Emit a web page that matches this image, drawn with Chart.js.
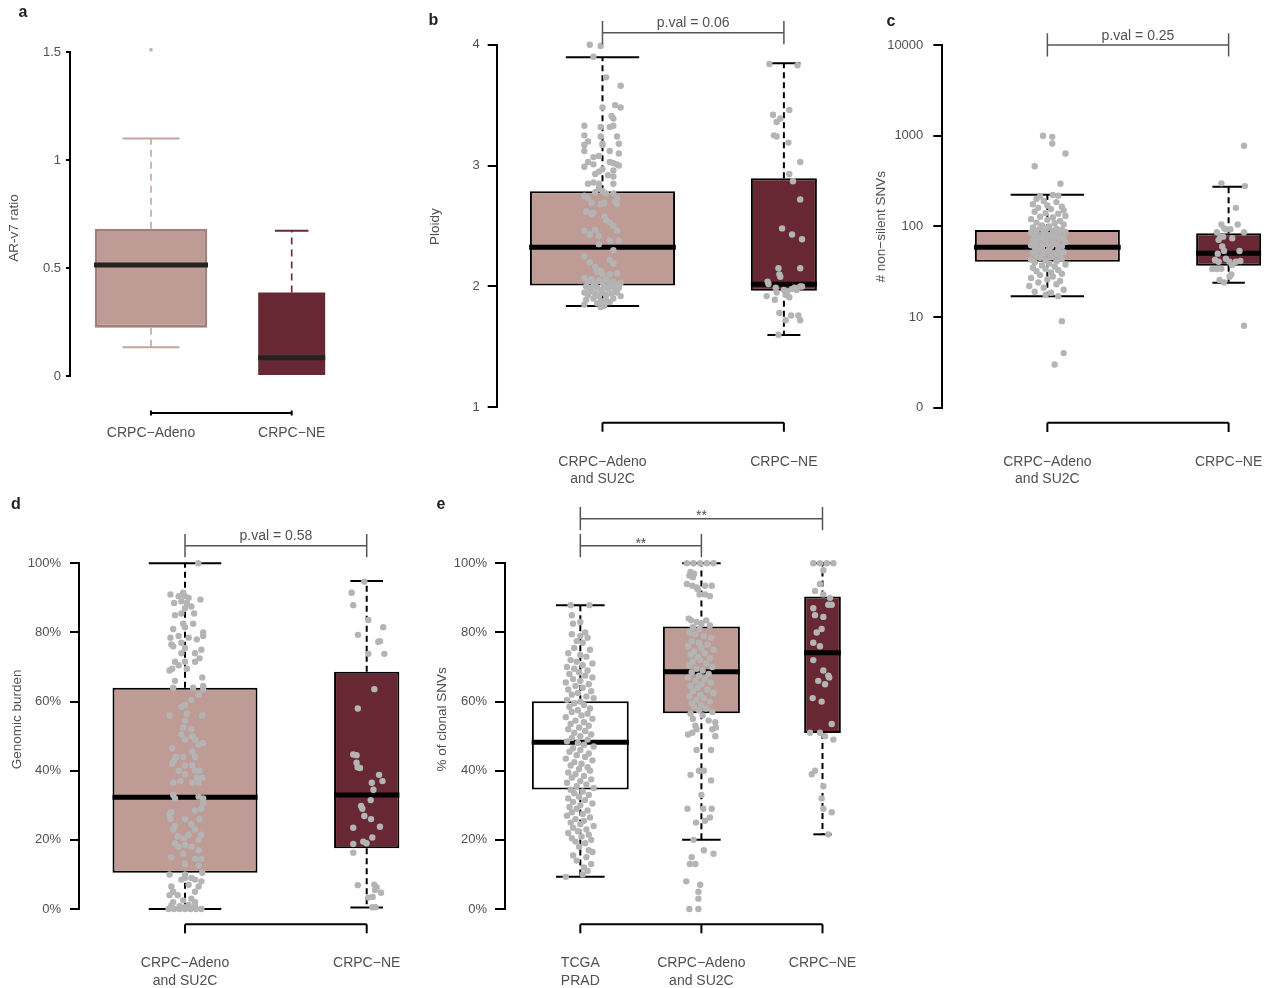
<!DOCTYPE html>
<html>
<head>
<meta charset="utf-8">
<script src="https://cdn.jsdelivr.net/npm/chart.js@4.4.1/dist/chart.umd.min.js"></script>
<style>
  body { margin: 0; background: #fff; width: 1273px; height: 988px; position: relative; overflow: hidden; }
  .panel { position: absolute; }
</style>
</head>
<body>
<div class="panel" style="left:0px;top:0px;width:340px;height:450px"><canvas id="pa"></canvas></div>
<div class="panel" style="left:420px;top:0px;width:440px;height:490px"><canvas id="pb"></canvas></div>
<div class="panel" style="left:860px;top:0px;width:413px;height:490px"><canvas id="pc"></canvas></div>
<div class="panel" style="left:0px;top:490px;width:420px;height:498px"><canvas id="pd"></canvas></div>
<div class="panel" style="left:420px;top:490px;width:450px;height:498px"><canvas id="pe"></canvas></div>
<script>
// ---- data ----
const catsTwo = ['CRPC\u2212Adeno\nand SU2C', 'CRPC\u2212NE'];
const catsA = ['CRPC\u2212Adeno', 'CRPC\u2212NE'];
const catsE = ['TCGA\nPRAD', 'CRPC\u2212Adeno\nand SU2C', 'CRPC\u2212NE'];

// a: AR-v7 ratio
const aQ1 = [0.223, 0], aMed = [0.514, 0.085], aQ3 = [0.682, 0.386];
const aLo = [0.133, 0], aHi = [1.10, 0.673];
const aPts = [[1.0, 1.51]];

// b: ploidy
const bQ1 = [2.007, 1.965], bMed = [2.324, 2.018], bQ3 = [2.787, 2.895];
const bLo = [1.839, 1.599], bHi = [3.896, 3.846];
const bPts = [[0.93,4.00],[0.99,3.99],[0.95,3.90],[1.02,3.73],[1.10,3.66],[1.00,3.48],[1.07,3.50],[1.10,3.48],[1.05,3.41],[1.06,3.39],
  [0.90,3.33],[0.99,3.32],[1.04,3.32],[1.06,3.33],[0.90,3.25],[0.90,3.17],[0.99,3.24],[1.00,3.17],[1.08,3.24],[1.09,3.18],
  [0.92,3.20],[0.90,3.12],[1.00,3.18],[1.04,3.12],[1.09,3.10],[0.95,3.07],[0.98,3.08],[0.90,2.99],[0.92,3.03],[0.95,3.01],
  [1.04,3.03],[1.06,3.02],[1.08,3.01],[1.09,3.00],[0.96,2.93],[0.98,2.95],[1.00,2.97],[1.03,2.92],[1.06,2.96],[1.06,2.91],
  [0.92,2.85],[0.95,2.86],[0.98,2.85],[1.06,2.85],[0.98,2.81],[1.00,2.79],[1.02,2.77],[0.96,2.78],[0.90,2.75],[0.92,2.73],
  [1.06,2.77],[1.08,2.73],[0.94,2.69],[1.01,2.69],[0.99,2.68],[1.07,2.70],[1.08,2.68],[0.91,2.62],[0.95,2.61],[0.94,2.60],
  [1.01,2.58],[1.02,2.55],[1.04,2.53],[0.90,2.46],[0.96,2.47],[1.06,2.50],[1.08,2.46],[0.93,2.43],[0.98,2.42],[1.04,2.38],
  [1.09,2.38],[0.98,2.35],[1.06,2.30],[0.90,2.25],[0.93,2.20],[0.96,2.16],[0.99,2.13],[1.04,2.22],[1.06,2.19],[0.97,2.12],
  [1.00,2.10],[1.04,2.10],[1.08,2.11],[0.90,2.07],[0.92,2.04],[0.94,2.06],[0.96,2.02],[0.98,2.05],[1.00,2.03],[1.02,2.06],
  [1.04,2.02],[1.06,2.04],[1.08,2.01],[1.10,2.03],[0.91,2.00],[0.93,1.98],[0.95,2.01],[0.97,1.99],[0.99,1.97],[1.01,2.00],
  [1.03,1.98],[1.05,2.00],[1.07,1.97],[1.09,1.99],[0.90,1.95],[0.92,1.93],[0.94,1.96],[0.96,1.94],[0.98,1.92],[1.00,1.95],
  [1.02,1.93],[1.05,1.94],[1.08,1.95],[1.10,1.92],[0.91,1.89],[0.95,1.90],[0.99,1.88],[1.02,1.89],[1.06,1.90],[0.90,1.85],
  [0.97,1.86],[1.01,1.84],[1.04,1.87],[0.99,1.83],
  [1.92,3.84],[2.075,3.83],[2.03,3.46],[1.94,3.42],[1.98,3.39],[1.96,3.36],[1.945,3.25],[1.96,3.24],[2.025,3.19],[2.09,3.03],
  [2.03,2.93],[2.05,2.87],[2.09,2.72],[1.99,2.48],[2.045,2.43],[2.10,2.39],[1.97,2.15],[2.09,2.15],[1.975,2.10],[1.98,2.08],
  [1.91,2.04],[1.915,2.02],[1.955,1.99],[1.96,1.95],[2.00,1.97],[2.02,1.96],[2.045,1.98],[2.06,1.99],[2.09,2.00],[2.10,2.00],
  [2.07,1.97],[1.905,1.92],[1.95,1.89],[2.01,1.93],[2.03,1.91],[1.975,1.78],[2.01,1.72],[2.04,1.76],[2.08,1.76],[2.09,1.72],[1.97,1.60]];

// c: non-silent SNVs (counts, log axis)
const cQ1 = [40.7, 36.8], cMed = [58.7, 50.4], cQ3 = [91, 84];
const cLo = [17, 23.9], cHi = [223, 273];
const cTicks = [1, 10, 100, 1000, 10000];
const cPts = [[0.976,1000],[1.027,970],[1.027,820],[1.10,635],[0.93,460],[1.072,295],[1.08,9],[1.09,4],[1.04,3],
  [0.96,215],[1.03,222],[1.06,218],[0.94,200],[0.98,190],[1.05,185],[0.92,175],[1.00,170],[1.08,165],[0.95,160],
  [1.02,155],[1.09,150],[0.93,145],[0.99,140],[1.06,138],[1.10,130],[0.96,128],[1.03,125],[0.91,120],[1.00,118],
  [1.07,115],[0.94,110],[1.04,108],[1.09,105],[0.97,102],[1.01,100],[0.92,97],[0.96,95],[1.00,96],[1.05,94],
  [1.08,92],[0.94,90],[0.98,88],[1.03,89],[1.10,87],[0.91,85],[0.99,84],[1.06,83],[0.93,80],[0.97,78],
  [1.01,79],[1.04,77],[1.09,76],[0.95,74],[1.00,72],[1.07,73],[0.92,70],[0.98,69],[1.03,68],[1.10,67],
  [0.94,65],[0.99,64],[1.05,63],[0.91,62],[0.96,61],[1.02,60],[1.08,60],[0.93,59],[0.97,57],[1.01,56],
  [1.06,55],[0.95,54],[1.00,53],[1.09,52],[0.92,51],[0.98,50],[1.04,49],[1.07,48],[0.94,47],[1.02,46],
  [0.96,45],[1.08,44],[0.91,43],[0.99,42],[1.05,41],[0.93,40],[1.01,39],[1.10,38],[0.97,37],[1.04,36],
  [0.92,35],[0.99,34],[1.06,33],[0.94,32],[1.02,31],[1.08,30],[0.96,29],[1.03,28],[0.91,27],[1.00,26],
  [1.07,25],[0.95,24],[1.05,23],[0.90,22],[0.98,21],[1.09,20],[0.93,19],[1.02,18.5],[0.99,17.5],[1.06,17],
  [2.085,775],[1.96,298],[2.09,278],[2.04,160],[1.96,105],[1.985,93],[2.01,93],[2.05,105],[1.975,95],[1.935,86],
  [1.945,71],[1.955,77],[1.97,77],[2.02,74],[2.085,86],[1.965,60],[1.94,50],[1.975,53.5],[2.06,53.5],[1.925,42.5],
  [1.945,40.7],[1.985,44],[2.005,40.7],[2.02,37.4],[2.04,40.7],[2.065,41.5],[1.91,33.8],[1.935,33.8],[1.96,34],
  [2.015,29.5],[2.005,27.8],[1.95,25.6],[1.975,24],[2.085,8]];

// d: genomic burden
const dQ1 = [0.105, 0.176], dMed = [0.323, 0.330], dQ3 = [0.640, 0.686];
const dLo = [0, 0.004], dHi = [1.0, 0.949];
const dPts = [[1.073,1.0],[0.92,0.91],[0.965,0.905],[0.99,0.915],[1.0,0.905],[1.02,0.90],[0.94,0.885],[0.98,0.89],[1.01,0.885],[1.085,0.895],
  [1.0,0.87],[1.035,0.875],[1.05,0.855],[0.945,0.85],[0.98,0.855],[0.99,0.825],[1.0,0.815],[1.045,0.825],[0.935,0.81],[1.1,0.80],
  [0.92,0.785],[0.965,0.79],[1.02,0.785],[1.065,0.78],[1.1,0.79],[0.925,0.765],[0.935,0.76],[0.98,0.77],[1.0,0.755],[0.98,0.74],
  [1.055,0.74],[1.09,0.75],[1.08,0.725],[0.945,0.715],[0.965,0.705],[1.0,0.715],[1.055,0.715],[0.915,0.69],[0.93,0.695],[1.01,0.695],
  [0.945,0.66],[1.095,0.67],[1.1,0.645],[1.045,0.64],[1.1,0.635],[0.935,0.64],[1.075,0.62],[1.035,0.605],[1.0,0.59],[0.98,0.585],
  [1.01,0.565],[0.915,0.56],[1.095,0.56],[1.0,0.545],[0.99,0.525],[0.98,0.505],[1.035,0.52],[1.04,0.50],[1.055,0.49],[1.1,0.48],
  [1.075,0.475],[1.0,0.49],[0.93,0.465],[0.95,0.44],[0.94,0.43],[1.04,0.455],[1.055,0.44],[0.99,0.44],[0.965,0.40],[0.93,0.42],
  [1.0,0.415],[1.04,0.415],[1.055,0.40],[1.08,0.40],[1.065,0.38],[1.0,0.39],[0.975,0.37],[1.095,0.38],[0.935,0.365],[1.04,0.365],
  [1.075,0.365],[0.935,0.33],[0.945,0.32],[1.075,0.325],[1.1,0.32],[1.1,0.305],[1.09,0.29],[1.055,0.285],[0.925,0.28],[0.915,0.275],
  [0.92,0.26],[0.945,0.24],[1.0,0.26],[1.035,0.245],[1.08,0.26],[1.055,0.23],[0.935,0.23],[0.96,0.21],[0.995,0.205],[1.02,0.215],
  [1.075,0.20],[1.09,0.215],[0.945,0.19],[0.965,0.18],[1.0,0.185],[1.035,0.18],[1.075,0.17],[0.925,0.15],[0.99,0.16],[1.055,0.145],
  [1.09,0.145],[1.0,0.13],[1.075,0.125],[0.915,0.10],[1.0,0.10],[1.095,0.105],[1.035,0.09],[0.98,0.085],[1.0,0.09],[1.055,0.085],
  [1.09,0.08],[0.925,0.065],[0.935,0.05],[1.02,0.07],[1.075,0.065],[1.055,0.05],[0.915,0.04],[0.96,0.04],[0.99,0.025],[1.035,0.03],
  [1.055,0.02],[0.935,0.02],[0.925,0.01],[0.97,0.008],[1.02,0.012],[1.055,0.008],[1.0,0.005],[0.91,0.0],[0.94,0.0],[0.97,0.0],
  [1.0,0.0],[1.03,0.0],[1.06,0.0],[1.09,0.0],
  [1.987,0.947],[1.917,0.915],[1.926,0.879],[2.009,0.836],[2.091,0.815],[1.952,0.793],[2.064,0.773],[2.073,0.775],[2.009,0.738],[2.097,0.738],
  [2.042,0.636],[1.951,0.58],[1.926,0.447],[1.944,0.445],[1.944,0.423],[1.95,0.41],[1.963,0.408],[2.068,0.388],[2.028,0.365],[2.087,0.37],
  [2.037,0.345],[2.022,0.315],[1.969,0.298],[1.976,0.29],[1.987,0.269],[2.024,0.26],[2.073,0.238],[1.926,0.235],[2.031,0.207],[1.981,0.195],
  [1.999,0.19],[1.926,0.188],[1.926,0.163],[1.951,0.069],[2.042,0.07],[2.055,0.062],[2.079,0.047],[2.033,0.035],[2.046,0.055],[2.009,0.033],
  [2.031,0.005],[2.049,0.005]];

// e: % of clonal SNVs
const eQ1 = [0.346, 0.566, 0.509], eMed = [0.482, 0.686, 0.741], eQ3 = [0.601, 0.817, 0.904];
const eLo = [0.093, 0.2, 0.216], eHi = [0.879, 1.0, 1.0];
const ePts = [[0.92,0.879],[1.075,0.879],[0.93,0.85],[1.0,0.83],[0.94,0.825],[1.04,0.80],[1.0,0.79],[0.93,0.795],[1.06,0.785],[0.97,0.775],
  [1.02,0.77],[0.95,0.755],[1.08,0.75],[0.90,0.74],[1.0,0.735],[1.05,0.73],[0.92,0.72],[0.97,0.715],[1.1,0.71],[1.02,0.705],
  [0.89,0.70],[0.95,0.695],[1.06,0.69],[0.99,0.685],[0.91,0.68],[1.04,0.675],[1.1,0.67],[0.94,0.665],[1.0,0.66],[0.88,0.655],
  [1.07,0.65],[0.96,0.645],[1.02,0.64],[0.9,0.635],[1.09,0.63],[0.98,0.625],[0.93,0.62],[1.05,0.615],[1.11,0.61],[0.89,0.605],
  [1.0,0.60],[0.95,0.595],[1.03,0.59],[0.91,0.585],[1.08,0.58],[0.98,0.575],[0.93,0.57],[1.06,0.565],[1.01,0.56],[0.88,0.555],
  [1.1,0.55],[0.96,0.545],[1.03,0.54],[0.92,0.535],[1.07,0.53],[0.99,0.525],[0.9,0.52],[1.04,0.515],[0.95,0.51],[1.09,0.505],
  [1.0,0.50],[0.93,0.495],[1.06,0.49],[0.89,0.485],[0.98,0.48],[1.03,0.475],[1.11,0.47],[0.94,0.465],[1.0,0.46],[0.91,0.455],
  [1.07,0.45],[0.97,0.445],[1.04,0.44],[0.88,0.435],[1.1,0.43],[0.95,0.425],[1.01,0.42],[0.92,0.415],[1.06,0.41],[0.99,0.405],
  [1.08,0.40],[0.9,0.395],[0.96,0.39],[1.03,0.385],[0.93,0.38],[1.09,0.375],[1.0,0.37],[0.89,0.365],[1.05,0.36],[0.97,0.355],
  [1.11,0.35],[0.92,0.345],[1.02,0.34],[0.95,0.335],[1.07,0.33],[0.99,0.325],[0.9,0.32],[1.04,0.315],[0.94,0.31],[1.1,0.305],
  [1.0,0.30],[0.91,0.295],[0.97,0.29],[1.06,0.285],[0.93,0.28],[1.02,0.275],[0.89,0.27],[1.08,0.265],[0.96,0.26],[1.03,0.255],
  [0.92,0.25],[1.0,0.245],[1.11,0.24],[0.94,0.235],[1.05,0.23],[0.98,0.225],[0.9,0.22],[1.07,0.215],[1.01,0.21],[0.93,0.205],
  [1.09,0.20],[0.96,0.195],[1.04,0.19],[0.99,0.18],[1.07,0.17],[1.1,0.165],[0.94,0.155],[1.05,0.15],[0.97,0.14],[1.09,0.13],
  [1.03,0.12],[1.06,0.11],[1.02,0.10],[0.88,0.093],
  [1.88,1.0],[1.934,1.0],[1.99,1.0],[2.045,1.0],[2.10,1.0],[1.91,0.975],[1.94,0.97],[1.90,0.965],[1.93,0.96],[1.88,0.94],
  [1.925,0.935],[1.96,0.93],[2.03,0.935],[2.085,0.935],[1.97,0.925],[1.985,0.91],[2.03,0.91],[2.07,0.905],[1.895,0.84],[1.915,0.835],
  [1.96,0.83],[2.0,0.825],[2.04,0.835],[1.93,0.815],[1.985,0.81],[2.07,0.82],[1.90,0.80],[1.95,0.795],[2.02,0.79],[2.08,0.785],
  [1.92,0.775],[1.98,0.77],[2.05,0.765],[1.89,0.76],[2.00,0.755],[2.10,0.75],[1.94,0.745],[2.03,0.74],[1.91,0.735],[1.97,0.73],
  [2.07,0.725],[1.99,0.72],[1.93,0.715],[2.04,0.71],[1.90,0.705],[2.09,0.70],[1.96,0.695],[2.01,0.69],[1.92,0.685],[2.06,0.68],
  [1.98,0.675],[1.89,0.67],[2.03,0.665],[1.95,0.66],[2.08,0.655],[2.00,0.65],[1.91,0.645],[1.97,0.64],[2.05,0.635],[1.93,0.63],
  [2.10,0.625],[1.99,0.62],[1.90,0.615],[2.02,0.61],[1.96,0.605],[2.07,0.60],[1.92,0.595],[2.00,0.59],[1.94,0.585],[2.04,0.58],
  [1.98,0.575],[2.09,0.57],[1.91,0.565],[2.01,0.56],[1.93,0.55],[2.06,0.545],[2.115,0.54],[2.12,0.525],[1.925,0.51],[1.89,0.505],
  [1.95,0.53],[1.96,0.52],[2.09,0.52],[2.115,0.50],[1.96,0.46],[2.08,0.46],[1.91,0.388],[1.98,0.40],[2.02,0.40],[2.08,0.372],
  [2.0,0.33],[1.885,0.29],[2.015,0.29],[2.085,0.29],[1.955,0.25],[2.03,0.255],[2.07,0.265],[1.935,0.20],[1.92,0.15],[1.905,0.13],
  [2.02,0.17],[2.10,0.16],[1.95,0.13],[1.875,0.08],[1.99,0.07],[1.975,0.05],[1.975,0.03],[1.9,0.0],[1.975,0.0],
  [2.924,1.0],[2.979,1.0],[3.035,1.0],[3.09,1.0],[3.007,0.98],[2.979,0.94],[2.938,0.92],[3.007,0.91],[3.062,0.90],[3.048,0.88],
  [3.076,0.88],[2.924,0.87],[2.938,0.85],[3.007,0.845],[2.993,0.81],[2.952,0.80],[2.924,0.77],[2.979,0.76],[2.924,0.72],[3.007,0.69],
  [3.048,0.675],[2.965,0.66],[3.021,0.65],[3.056,0.67],[2.919,0.61],[2.993,0.60],[3.076,0.535],[2.897,0.51],[2.979,0.51],[3.021,0.50],
  [3.09,0.49],[2.911,0.39],[2.938,0.40],[3.007,0.355],[2.993,0.32],[3.007,0.29],[3.076,0.28],[3.048,0.216]];

// ---- styling ----
const FONT = '"Liberation Sans", Arial, Helvetica, sans-serif';
const TXT = '#505050';
const PINK = '#bf9b95';
const WINE = '#672834';
const DOT = '#b4b4b4';

function line(ctx, x1, y1, x2, y2) {
  ctx.beginPath(); ctx.moveTo(x1, y1); ctx.lineTo(x2, y2); ctx.stroke();
}

// whiskers, caps, medians, brackets and texts around the library's bars
function extras(p) {
  return {
    id: 'extras',
    afterDatasetDraw(chart, args) {
      const i = args.index - 1;
      if (i < 0) return;
      const ctx = chart.ctx, xs = chart.scales.x, ys = chart.scales.y;
      const cx = xs.getPixelForValue(i + 1), w = p.boxW[i], cap = w / 4;
      const y1 = ys.getPixelForValue(p.q1[i]), y3 = ys.getPixelForValue(p.q3[i]);
      const yl = ys.getPixelForValue(p.lo[i]), yh = ys.getPixelForValue(p.hi[i]);
      const ym = ys.getPixelForValue(p.med[i]);
      ctx.save();
      ctx.strokeStyle = p.whisker[i];
      ctx.lineWidth = p.whiskerW;
      ctx.setLineDash(p.dash);
      line(ctx, cx, y3, cx, yh);
      if (p.lo[i] < p.q1[i]) line(ctx, cx, y1, cx, yl);
      ctx.setLineDash([]);
      ctx.lineWidth = 2;
      line(ctx, cx - cap, yh, cx + cap, yh);
      if (p.lo[i] < p.q1[i]) line(ctx, cx - cap, yl, cx + cap, yl);
      ctx.strokeStyle = p.medColor;
      ctx.lineWidth = 5;
      line(ctx, cx - w / 2, ym, cx + w / 2, ym);
      ctx.restore();
    },
    afterDraw(chart) {
      const ctx = chart.ctx, xs = chart.scales.x, area = chart.chartArea;
      const n = p.cats.length;
      const x0 = xs.getPixelForValue(1), xn = xs.getPixelForValue(n);
      ctx.save();
      // bottom bracket axis
      const by = area.bottom + p.axisDy;
      ctx.strokeStyle = '#000';
      ctx.lineWidth = 2;
      line(ctx, x0, by, xn, by);
      for (let i = 0; i < n; i++) {
        const x = xs.getPixelForValue(i + 1);
        line(ctx, x, by - p.axisTick[0], x, by + p.axisTick[1]);
      }
      // category labels
      ctx.fillStyle = TXT;
      ctx.font = '14px ' + FONT;
      ctx.textAlign = 'center';
      ctx.textBaseline = 'alphabetic';
      p.cats.forEach((c, i) => {
        const x = xs.getPixelForValue(i + 1);
        c.split('\n').forEach((t, k) => ctx.fillText(t, x, area.bottom + p.labelDy[k]));
      });
      // significance brackets
      p.sig.forEach(s => {
        const xa = xs.getPixelForValue(s.from), xb = xs.getPixelForValue(s.to);
        const ly = area.top + s.dy;
        ctx.strokeStyle = '#555';
        ctx.lineWidth = 1.5;
        line(ctx, xa, ly, xb, ly);
        line(ctx, xa, ly - 11.7, xa, ly + 11.5);
        line(ctx, xb, ly - 11.7, xb, ly + 11.5);
        ctx.fillStyle = TXT;
        ctx.font = '14px ' + FONT;
        ctx.fillText(s.text, (xa + xb) / 2, ly + s.textDy);
      });
      // y title
      ctx.save();
      ctx.translate(p.title.x, p.title.y);
      ctx.rotate(-Math.PI / 2);
      ctx.fillStyle = TXT;
      ctx.font = '13.5px ' + FONT;
      ctx.textBaseline = 'middle';
      ctx.fillText(p.title.text, 0, 0);
      ctx.restore();
      // panel letter
      ctx.fillStyle = '#222';
      ctx.font = 'bold 16px ' + FONT;
      ctx.textBaseline = 'middle';
      ctx.fillText(p.letter.text, p.letter.x, p.letter.y);
      ctx.restore();
    }
  };
}

function panel(id, p) {
  const boxes = p.cats.map((c, i) => ({
    type: 'bar',
    data: [{ x: i + 1, y: [p.q1[i], p.q3[i]] }],
    backgroundColor: p.fill[i],
    borderColor: p.border[i],
    borderWidth: p.borderW[i],
    borderSkipped: false,
    grouped: false,
    barPercentage: 1,
    maxBarThickness: p.boxW[i],
    order: 1
  }));
  const dots = {
    type: 'scatter',
    data: p.points.map(([x, y]) => ({ x, y })),
    pointRadius: p.dotR,
    pointBackgroundColor: p.dotColor,
    pointBorderWidth: 0,
    clip: false,
    order: 0
  };
  const yScale = Object.assign({
    position: 'left',
    border: { display: true, color: '#000', width: 2 },
    grid: { drawOnChartArea: false, drawTicks: true, tickLength: p.tickLen, color: '#000', lineWidth: 2 },
    ticks: Object.assign({ padding: p.tickPad, color: TXT, font: { family: FONT, size: 13 } }, p.yTicks),
    afterFit: s => { s.width = p.yWidth; s.paddingTop = 0; s.paddingBottom = 0; }
  }, p.y);
  new Chart(document.getElementById(id), {
    type: 'bar',
    data: { datasets: [dots, ...boxes] },
    options: {
      responsive: true,
      maintainAspectRatio: false,
      animation: false,
      devicePixelRatio: 1,
      layout: { padding: p.pad },
      plugins: { legend: { display: false }, tooltip: { enabled: false } },
      scales: {
        x: {
          type: 'linear', display: false, offset: false, min: p.xMin, max: p.xMax,
          afterBuildTicks: ax => { ax.ticks = p.cats.map((c, i) => ({ value: i + 1 })); }
        },
        y: yScale
      }
    },
    plugins: [extras(p)]
  });
}

const pct = v => Math.round(v * 100) + '%';
const plain = v => String(Math.round(v * 10) / 10);

panel('pa', {
  cats: catsA, q1: aQ1, med: aMed, q3: aQ3, lo: aLo, hi: aHi, points: aPts,
  fill: [PINK, WINE], border: ['#9e817c', WINE], borderW: [3, 0], boxW: [114, 67],
  whisker: ['#c6a49e', WINE], whiskerW: 1.6, dash: [7, 5], medColor: '#222',
  dotR: 1.8, dotColor: '#c9aaa5',
  pad: { left: 0, top: 52, right: 10, bottom: 74 }, yWidth: 70, tickLen: 4, tickPad: 5,
  xMin: 0.4243, xMax: 2.2722,
  y: { type: 'linear', min: 0, max: 1.5 }, yTicks: { stepSize: 0.5, callback: plain },
  axisDy: 37, axisTick: [2.5, 2.5], labelDy: [60.7],
  sig: [],
  title: { text: 'AR-v7 ratio', x: 14.5, y: 228 },
  letter: { text: 'a', x: 23, y: 13 }
});

panel('pb', {
  cats: catsTwo, q1: bQ1, med: bMed, q3: bQ3, lo: bLo, hi: bHi, points: bPts,
  fill: [PINK, WINE], border: ['#000', '#000'], borderW: [2, 2], boxW: [146.7, 66],
  whisker: ['#000', '#000'], whiskerW: 2, dash: [6, 4], medColor: '#000',
  dotR: 3.2, dotColor: DOT,
  pad: { left: 0, top: 44.7, right: 20, bottom: 82.7 }, yWidth: 76.7, tickLen: 9, tickPad: 8,
  xMin: 0.4168, xMax: 2.3093,
  y: { type: 'linear', min: 1, max: 4 }, yTicks: { stepSize: 1 },
  axisDy: 15.4, axisTick: [0, 9], labelDy: [58.7, 76],
  sig: [{ from: 1, to: 2, text: 'p.val = 0.06', dy: -12, textDy: -5.5 }],
  title: { text: 'Ploidy', x: 15, y: 226.7 },
  letter: { text: 'b', x: 13.3, y: 20.7 }
});

panel('pc', {
  cats: catsTwo, q1: cQ1, med: cMed, q3: cQ3, lo: cLo, hi: cHi, points: cPts,
  fill: [PINK, WINE], border: ['#000', '#000'], borderW: [2, 2], boxW: [146.7, 65],
  whisker: ['#000', '#000'], whiskerW: 2, dash: [6, 4], medColor: '#000',
  dotR: 3.2, dotColor: DOT,
  pad: { left: 0, top: 45, right: 3, bottom: 82.3 }, yWidth: 81.7, tickLen: 8.4, tickPad: 10,
  xMin: 0.417, xMax: 2.2228,
  y: {
    type: 'logarithmic', min: 1, max: 10000,
    afterBuildTicks: ax => { ax.ticks = cTicks.map(v => ({ value: v })); }
  },
  yTicks: { callback: v => (v === 1 ? '0' : String(v)) },
  axisDy: 15, axisTick: [0, 9.3], labelDy: [58.3, 75.6],
  sig: [{ from: 1, to: 2, text: 'p.val = 0.25', dy: 0, textDy: -5.5 }],
  title: { text: '# non\u2212silent SNVs', x: 21.7, y: 226.7 },
  letter: { text: 'c', x: 31, y: 21.7 }
});

panel('pd', {
  cats: catsTwo, q1: dQ1, med: dMed, q3: dQ3, lo: dLo, hi: dHi, points: dPts,
  fill: [PINK, WINE], border: ['#000', '#000'], borderW: [2, 2], boxW: [145, 65.3],
  whisker: ['#000', '#000'], whiskerW: 2, dash: [6, 4], medColor: '#000',
  dotR: 3.2, dotColor: DOT,
  pad: { left: 0, top: 73.3, right: 10, bottom: 79 }, yWidth: 79, tickLen: 9, tickPad: 9,
  xMin: 0.4166, xMax: 2.2383,
  y: { type: 'linear', min: 0, max: 1 }, yTicks: { stepSize: 0.2, callback: pct },
  axisDy: 15.3, axisTick: [0, 9], labelDy: [57.7, 76],
  sig: [{ from: 1, to: 2, text: 'p.val = 0.58', dy: -17.6, textDy: -5.5 }],
  title: { text: 'Genomic burden', x: 17.7, y: 229.3 },
  letter: { text: 'd', x: 16, y: 15 }
});

panel('pe', {
  cats: catsE, q1: eQ1, med: eMed, q3: eQ3, lo: eLo, hi: eHi, points: ePts,
  fill: ['#ffffff', PINK, WINE], border: ['#000', '#000', '#000'], borderW: [2, 2, 2], boxW: [97.3, 77, 36.7],
  whisker: ['#000', '#000', '#000'], whiskerW: 2, dash: [6, 4], medColor: '#000',
  dotR: 3.2, dotColor: DOT,
  pad: { left: 0, top: 73.3, right: 10, bottom: 79 }, yWidth: 85, tickLen: 10, tickPad: 8,
  xMin: 0.378, xMax: 3.3097,
  y: { type: 'linear', min: 0, max: 1 }, yTicks: { stepSize: 0.2, callback: pct },
  axisDy: 15.3, axisTick: [0, 9], labelDy: [57.7, 76],
  sig: [
    { from: 1, to: 3, text: '**', dy: -44.6, textDy: 1.5 },
    { from: 1, to: 2, text: '**', dy: -17.6, textDy: 2 }
  ],
  title: { text: '% of clonal SNVs', x: 22.7, y: 229.3 },
  letter: { text: 'e', x: 21, y: 15 }
});
</script>
</body>
</html>
